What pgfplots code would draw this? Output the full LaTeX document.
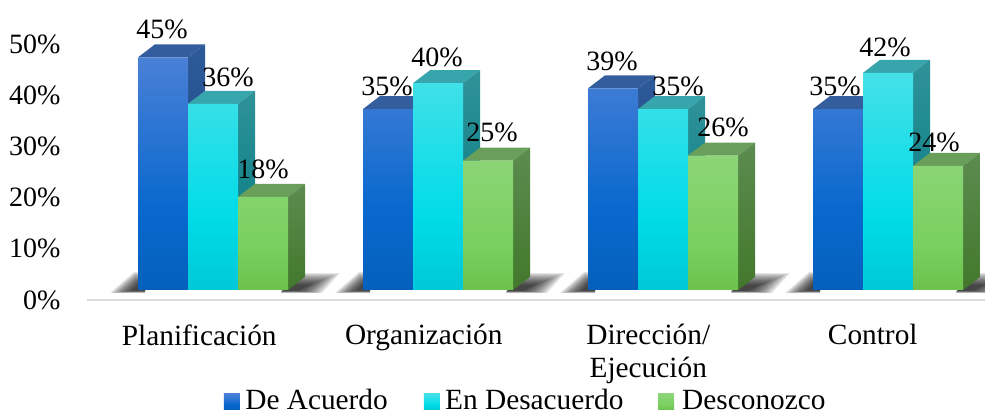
\documentclass[border=0pt]{standalone}
\usepackage{pgfplots}
\pgfplotsset{compat=1.18}
\usepackage{pgfplotstable}
\usepackage{fontspec}
\setmainfont{Liberation Serif}

\definecolor{blueA}{HTML}{4A80D6}
\definecolor{blueB}{HTML}{0868CE}
\definecolor{blueC}{HTML}{0560BC}
\definecolor{cyanA}{HTML}{45E0E8}
\definecolor{cyanB}{HTML}{00DCE8}
\definecolor{cyanC}{HTML}{00C8D8}
\definecolor{greenA}{HTML}{8CD578}
\definecolor{greenB}{HTML}{7AD060}
\definecolor{greenC}{HTML}{6CC24C}
\definecolor{blueTop}{HTML}{345D9E}
\definecolor{cyanTop}{HTML}{37A6AC}
\definecolor{greenTop}{HTML}{699F5A}
\definecolor{blueS1}{HTML}{2F5A9A}
\definecolor{blueS2}{HTML}{17427E}
\definecolor{cyanS1}{HTML}{2F9299}
\definecolor{cyanS2}{HTML}{00787E}
\definecolor{greenS1}{HTML}{5C8C50}
\definecolor{greenS2}{HTML}{42782C}

% Front faces: lighter at the top, saturated below the middle.
\pgfdeclareverticalshading{bluefront}{100bp}{color(0bp)=(blueC); color(25bp)=(blueC); color(42bp)=(blueB); color(75bp)=(blueA); color(100bp)=(blueA)}
\pgfdeclareverticalshading{cyanfront}{100bp}{color(0bp)=(cyanC); color(25bp)=(cyanC); color(42bp)=(cyanB); color(75bp)=(cyanA); color(100bp)=(cyanA)}
\pgfdeclareverticalshading{greenfront}{100bp}{color(0bp)=(greenC); color(25bp)=(greenC); color(42bp)=(greenB); color(75bp)=(greenA); color(100bp)=(greenA)}

\pgfplotstableread{
idx acuerdo desacuerdo desconozco
0   45      36         18
1   35      40         25
2   39      35         26
3   35      42         24
}\resultados

% Legend swatch, placed after ybar so that it replaces the bar-shaped default.
\pgfplotsset{swatch/.style={legend image code/.code={\path[##1] (0pt,-6pt) rectangle (12pt,6pt);}}}

% Roof and side of one bar: #1 group, #2 position in the group, #3 value, #4 roof, #5/#6 side colours.
\newcommand{\barfaces}[6]{%
  \pgfmathsetmacro\xa{#1+(#2)*50/225-25/225}%
  \pgfmathsetmacro\xb{#1+(#2)*50/225+25/225}%
  \pgfmathsetmacro\xc{\xb+17/225}%
  \pgfmathsetmacro\xd{\xa+17/225}%
  \pgfmathsetmacro\vb{#3+13/5.17}%
  \addplot[forget plot,fill=#4,draw=none] coordinates {(\xa,#3)(\xb,#3)(\xc,\vb)(\xd,\vb)} --cycle;
  \addplot[forget plot,draw=none,top color=#5,bottom color=#6] coordinates {(\xb,#3)(\xc,\vb)(\xc,2.51)(\xb,0)} --cycle;
}

\begin{document}
\begin{tikzpicture}[x=1pt,y=1pt]
\fontsize{21}{25}\selectfont
\path[use as bounding box] (0,0) rectangle (738.75pt,309pt);

% Percentage scale and category names
\begin{axis}[
  at={(65.25pt,84pt)}, anchor=south west,
  scale only axis, width=673.5pt, height=192pt,
  xmin=-0.5, xmax=3.5, ymin=0, ymax=50,
  axis x line=bottom, axis y line=left,
  x axis line style={draw=black!14,line width=1.5pt,-},
  y axis line style={draw=none},
  tick style={draw=none},
  ytick={0,10,20,30,40,50},
  yticklabel={\pgfmathprintnumber{\tick}\%},
  /pgf/number format/assume math mode=true,
  yticklabel style={font=\fontsize{21}{25}\selectfont,inner sep=0pt,xshift=-17.5pt},
  xtick={0,1,2,3},
  xticklabels={Planificación,Organización,{Dirección/\\Ejecución},Control},
  xticklabel style={font=\fontsize{22}{24.75}\selectfont,align=center,anchor=north,yshift=-16pt,inner sep=0pt},
]
\end{axis}

% Soft contact shadows on the floor, built from nested translucent polygons
\begin{scope}[x=.75pt,y=-.75pt,shift={(0,-412)}]
  \foreach \o in {0,225,450,675}{
    \foreach \k in {0,...,11}{
      \fill[black,opacity=.1] ({110+2*\k+\o},{293-.2*\k})--({145+\o},{293-.2*\k})--({145+\o},{272+1.1*\k})--({134+.4*\k+\o},{272+1.1*\k})--cycle;
      \fill[black,opacity=.1] ({281+\o},{293-.2*\k})--({322-2.2*\k+\o},{293-.2*\k})--({340-2.8*\k+\o},{273+1.1*\k})--({295+\o},{273+1.1*\k})--cycle;
    }
  }
\end{scope}

% Bars on their own value scale, with depth drawn as roof and side faces
\begin{axis}[
  at={(0,0)}, anchor=south west,
  scale only axis, width=738.75pt, height=309pt,
  xmin=-0.946667, xmax=3.431111,
  ymin=-23.6, ymax=56.09,
  hide axis, clip=false,
  legend columns=3,
  legend style={
    at={(axis description cs:0.2274,0.0245)},anchor=west,
    draw=none,fill=none,inner sep=0pt,outer sep=0pt,
    nodes={inner sep=0pt},
    font=\fontsize{22}{25}\selectfont,
    /tikz/column 1/.style={column sep=4pt},
    /tikz/column 2/.style={column sep=27pt},
    /tikz/column 3/.style={column sep=4pt},
    /tikz/column 4/.style={column sep=26pt},
    /tikz/column 5/.style={column sep=6pt},
  },
]
\barfaces{0}{-1}{45}{blueTop}{blueS1}{blueS2}
\barfaces{1}{-1}{35}{blueTop}{blueS1}{blueS2}
\barfaces{2}{-1}{39}{blueTop}{blueS1}{blueS2}
\barfaces{3}{-1}{35}{blueTop}{blueS1}{blueS2}
\addplot[ybar,swatch,bar width=37.5pt,bar shift=-37.5pt,draw=none,shade,shading=bluefront]
  table[x=idx,y=acuerdo]{\resultados};
\addlegendentry{De Acuerdo}
\barfaces{0}{0}{36}{cyanTop}{cyanS1}{cyanS2}
\barfaces{1}{0}{40}{cyanTop}{cyanS1}{cyanS2}
\barfaces{2}{0}{35}{cyanTop}{cyanS1}{cyanS2}
\barfaces{3}{0}{42}{cyanTop}{cyanS1}{cyanS2}
\addplot[ybar,swatch,bar width=37.5pt,bar shift=0pt,draw=none,shade,shading=cyanfront]
  table[x=idx,y=desacuerdo]{\resultados};
\addlegendentry{En Desacuerdo}
\barfaces{0}{1}{18}{greenTop}{greenS1}{greenS2}
\barfaces{1}{1}{25}{greenTop}{greenS1}{greenS2}
\barfaces{2}{1}{26}{greenTop}{greenS1}{greenS2}
\barfaces{3}{1}{24}{greenTop}{greenS1}{greenS2}
\addplot[ybar,swatch,bar width=37.5pt,bar shift=37.5pt,draw=none,shade,shading=greenfront]
  table[x=idx,y=desconozco]{\resultados};
\addlegendentry{Desconozco}
\end{axis}

% Value labels above the bars
\begin{scope}[x=.75pt,y=-.75pt,shift={(0,-412)}]
  \foreach \px/\py/\t in {162/38/45,228/86/36,263/178/18,
                          387/95/35,437/66/40,492/141/25,
                          612/70/39,678/95/35,723/136/26,
                          835/95/35,885/56/42,934/151/24}{
    \node[anchor=base,inner sep=0pt] at (\px,\py) {\fontsize{21}{25}\selectfont\t\%};
  }
\end{scope}
\end{tikzpicture}
\end{document}
